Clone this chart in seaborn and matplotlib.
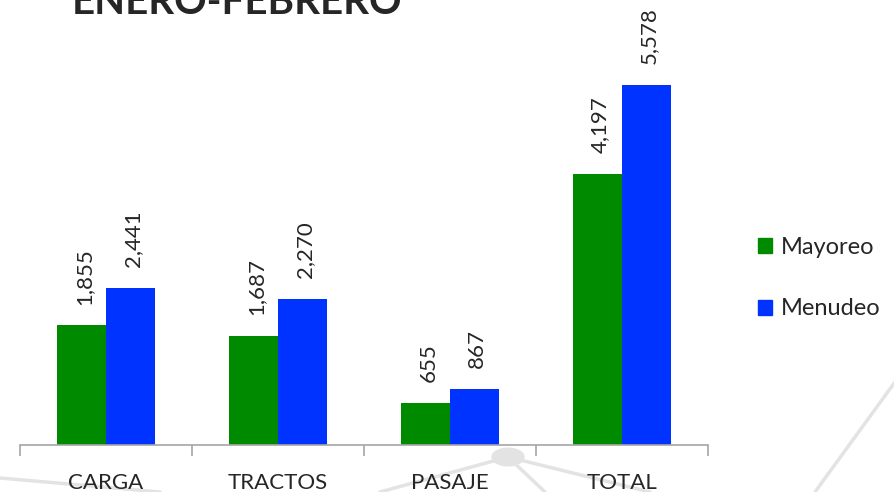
import pandas as pd
import matplotlib.pyplot as plt
import seaborn as sns
from matplotlib.lines import Line2D
from matplotlib.patches import Circle, Patch

# datos
categorias = ['CARGA', 'TRACTOS', 'PASAJE', 'TOTAL']
mayoreo = [1855, 1687, 655, 4197]
menudeo = [2441, 2270, 867, 5578]
series = ['Mayoreo', 'Menudeo']
colores = ['#008A00', '#0033FF']

df = pd.DataFrame({
    'categoria': categorias * 2,
    'tipo': ['Mayoreo'] * len(categorias) + ['Menudeo'] * len(categorias),
    'valor': mayoreo + menudeo,
})

sns.set_style('white')
plt.rcParams['font.family'] = ['Lato', 'DejaVu Sans']

W, H = 895, 492
fig = plt.figure(figsize=(W / 100, H / 100), dpi=100)


def px(x, y):
    return x / W, 1 - y / H


# lineas decorativas de fondo
gris = '#e3e3e3'
for (x0, y0), (x1, y1) in [((508, 457), (380, 492)), ((508, 457), (650, 492)),
                           ((508, 457), (545, 492)), ((0, 478), (160, 492)),
                           ((895, 382), (815, 492))]:
    a, b = px(x0, y0)
    c, d = px(x1, y1)
    fig.add_artist(Line2D([a, c], [b, d], color=gris, lw=2.5, zorder=0))
cx, cy = px(508, 457)
fig.add_artist(Circle((cx, cy), 16 / W, color=gris, zorder=0,
                      transform=fig.transFigure))

ax = fig.add_axes([20 / W, 47 / H, 688 / W, 445 / H])
ax.patch.set_alpha(0)
sns.barplot(data=df, x='categoria', y='valor', hue='tipo', order=categorias,
            hue_order=series, palette=colores, width=0.57, saturation=1,
            linewidth=0, ax=ax, legend=False)

ax.set_xlim(-0.5, 3.5)
ax.set_ylim(0, 6900)
ax.set_xlabel('')
ax.set_ylabel('')
ax.set_yticks([])
for s in ['top', 'right', 'left']:
    ax.spines[s].set_visible(False)
ax.spines['bottom'].set_color('#a6a6a6')
ax.spines['bottom'].set_linewidth(1.2)

# ticks entre categorias
ax.set_xticks([-0.5, 0.5, 1.5, 2.5, 3.5], minor=True)
ax.tick_params(axis='x', which='minor', bottom=True, length=8, width=1.2,
               color='#a6a6a6', direction='out')
ax.tick_params(axis='x', which='major', length=0, pad=20, labelsize=16)

# etiquetas de valores
for cont in ax.containers:
    for bar in cont:
        v = bar.get_height()
        ax.annotate(f'{v:,.0f}', (bar.get_x() + bar.get_width() / 2, v),
                    xytext=(2, 15), textcoords='offset points',
                    rotation=90, ha='center', va='bottom', fontsize=16,
                    annotation_clip=False)

handles = [Patch(color=c, label=l) for c, l in zip(colores, series)]
fig.legend(handles=handles, loc='upper left', bbox_to_anchor=px(737, 216),
           frameon=False, fontsize=17, handlelength=0.6, handleheight=0.6,
           handletextpad=0.35, labelspacing=1.7)

fig.text(*px(72, 14), 'ENERO-FEBRERO', fontsize=29, fontweight='bold',
         va='baseline', ha='left')

plt.savefig('out.png', dpi=100)
